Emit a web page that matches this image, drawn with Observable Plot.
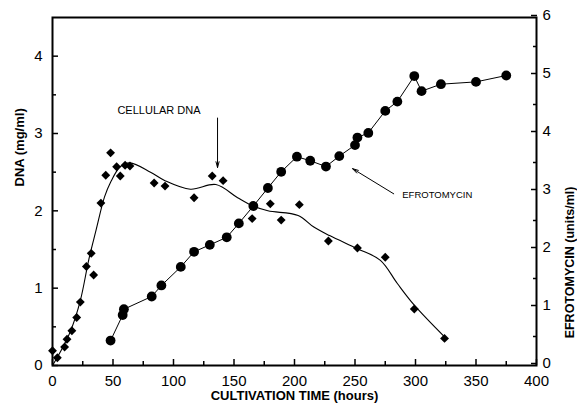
<!DOCTYPE html>
<html>
<head>
<meta charset="utf-8">
<script src="https://cdn.jsdelivr.net/npm/d3@7"></script>
<script src="https://cdn.jsdelivr.net/npm/@observablehq/plot@0.6"></script>
<style>
  html, body { margin: 0; padding: 0; background: #fff; }
</style>
</head>
<body>
<div id="chart"></div>
<script>
// Cellular DNA (mg/ml), diamonds
const dnaHours  = [0, 4, 10, 12, 16, 20, 23, 28, 32, 34, 40, 44, 48, 53, 56, 60, 64, 84, 93, 117, 132, 141, 165, 180, 189, 204, 228, 252, 275, 299, 324];
const dnaValues = [0.19, 0.10, 0.24, 0.34, 0.45, 0.62, 0.82, 1.28, 1.45, 1.17, 2.10, 2.46, 2.75, 2.57, 2.45, 2.59, 2.58, 2.36, 2.32, 2.17, 2.45, 2.39, 1.90, 2.09, 1.88, 2.08, 1.61, 1.52, 1.40, 0.73, 0.35];

// Smooth fitted DNA curve
const curveHours  = [0, 8, 15, 23, 30, 36, 43, 48, 56, 64, 81, 93, 114, 135, 153, 166, 178, 203, 216, 229, 252, 271, 285, 299, 324];
const curveValues = [0, 0.22, 0.45, 0.84, 1.37, 1.75, 2.18, 2.37, 2.57, 2.62, 2.50, 2.39, 2.28, 2.34, 2.17, 2.06, 2.00, 1.94, 1.79, 1.68, 1.51, 1.36, 1.06, 0.78, 0.37];

// Efrotomycin (units/ml), circles
const efroHours  = [48, 58, 59, 82, 90, 106, 117, 130, 144, 154, 166, 178, 189, 202, 213, 226, 237, 250, 252, 261, 275, 285, 299, 305, 321, 350, 375];
const efroValues = [0.43, 0.87, 0.97, 1.19, 1.38, 1.70, 1.96, 2.08, 2.21, 2.45, 2.75, 3.06, 3.34, 3.60, 3.53, 3.43, 3.61, 3.80, 3.93, 4.01, 4.39, 4.55, 4.99, 4.73, 4.85, 4.89, 5.00];

// Axes
const xDomain = [0, 400];
const xTicks = [0, 50, 100, 150, 200, 250, 300, 350, 400];
const xMinorTicks = [25, 75, 125, 175, 225, 275, 325, 375];
const dnaDomain = [0, 4.5];
const dnaTicks = [0, 1, 2, 3, 4];
const dnaMinorTicks = [0.5, 1.5, 2.5, 3.5];
const efroDomain = [0, 6];
const efroTicks = [0, 1, 2, 3, 4, 5, 6];
const efroMinorTicks = [0.5, 1.5, 2.5, 3.5, 4.5, 5.5];

// Text
const xLabel = ["CULTIVATION TIME (hours)"];
const dnaLabel = ["DNA (mg/ml)"];
const efroLabel = ["EFROTOMYCIN (units/ml)"];
const annotations = [
  {text: "CELLULAR DNA", x: 88, y: 3.30, size: 11},
  {text: "EFROTOMYCIN", x: 318, y: 2.21, size: 9.5}
];
const arrows = [
  {x1: 136.4, y1: 3.20, x2: 136.4, y2: 2.56},
  {x1: 282, y1: 2.22, x2: 248, y2: 2.545}
];

const ratio = dnaDomain[1] / efroDomain[1];
const dnaData = dnaHours.map((h, i) => ({h, v: dnaValues[i]}));
const curveData = curveHours.map((h, i) => ({h, v: curveValues[i]}));
const efroData = efroHours.map((h, i) => ({h, v: efroValues[i] * ratio}));

const chart = Plot.plot({
  width: 577,
  height: 407,
  marginLeft: 52,
  marginRight: 41,
  marginTop: 17,
  marginBottom: 42,
  style: {fontFamily: "'Liberation Sans', Arial, sans-serif", fontSize: "15px", color: "#000", background: "#fff"},
  x: {domain: xDomain},
  y: {domain: dnaDomain},
  marks: [
    Plot.axisX(xMinorTicks, {anchor: "bottom", tickSize: -4, fill: "none", strokeWidth: 1.5, label: null}),
    Plot.axisX(xTicks, {anchor: "bottom", tickSize: -6, tickPadding: 16, strokeWidth: 1.5, label: null, fontSize: 15, tickFormat: d => String(d)}),
    Plot.axisY(dnaMinorTicks, {anchor: "left", tickSize: -4, fill: "none", strokeWidth: 1.5, label: null}),
    Plot.axisY(dnaTicks, {anchor: "left", tickSize: -6, tickPadding: 16, strokeWidth: 1.5, label: null, fontSize: 15, tickFormat: d => String(d)}),
    Plot.axisY(efroMinorTicks.map(v => v * ratio), {anchor: "right", tickSize: -4, fill: "none", strokeWidth: 1.5, label: null}),
    Plot.axisY(efroTicks.map(v => v * ratio), {anchor: "right", tickSize: -6, tickPadding: 12, dy: -2, strokeWidth: 1.5, label: null, fontSize: 15, tickFormat: d => String(Math.round(d / ratio))}),
    Plot.frame({strokeWidth: 2}),
    Plot.line(curveData, {x: "h", y: "v", curve: "catmull-rom", stroke: "black", strokeWidth: 1.1}),
    Plot.line(efroData, {x: "h", y: "v", stroke: "black", strokeWidth: 1}),
    Plot.dot(dnaData, {x: "h", y: "v", symbol: "diamond2", r: 4, fill: "black", stroke: null}),
    Plot.dot(efroData, {x: "h", y: "v", r: 4.9, fill: "black", stroke: null}),
    Plot.arrow(arrows, {x1: "x1", y1: "y1", x2: "x2", y2: "y2", stroke: "black", strokeWidth: 1, headLength: 9, headAngle: 30}),
    Plot.text(annotations, {x: "x", y: "y", text: "text", fontSize: "size", fill: "black"}),
    Plot.text(xLabel, {text: d => d, frameAnchor: "bottom", dy: 34, fontWeight: "bold", fontSize: 13, fill: "black"}),
    Plot.text(dnaLabel, {text: d => d, frameAnchor: "left", dx: -33, dy: -5, rotate: -90, fontWeight: "bold", fontSize: 13, fill: "black"}),
    Plot.text(efroLabel, {text: d => d, frameAnchor: "right", dx: 33, dy: -5, rotate: -90, fontWeight: "bold", fontSize: 12.5, fill: "black"})
  ]
});
document.getElementById("chart").appendChild(chart);
</script>
</body>
</html>
